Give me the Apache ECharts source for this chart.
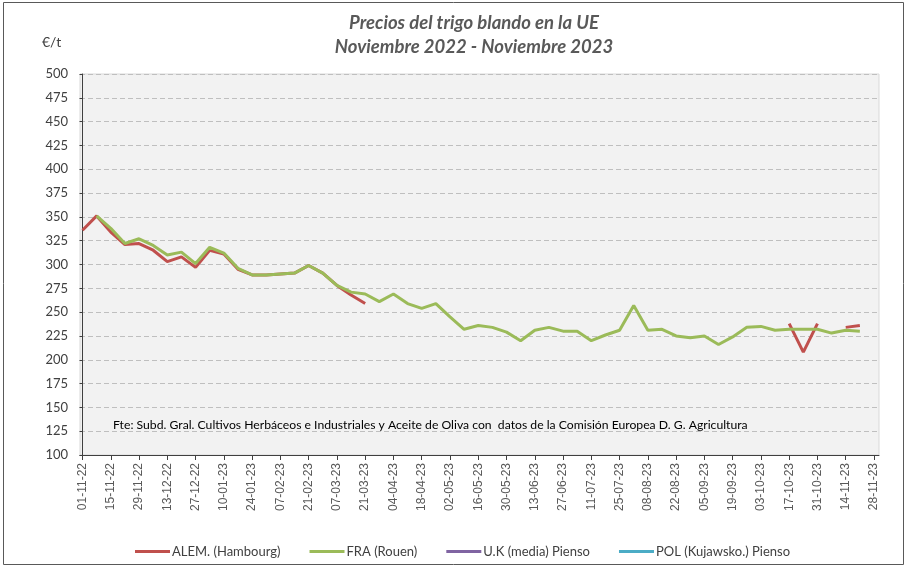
<!DOCTYPE html>
<html><head><meta charset="utf-8">
<script src="https://cdn.jsdelivr.net/npm/echarts@6/dist/echarts.min.js"></script>
<style>html,body{margin:0;padding:0;background:#fff}#c{width:915px;height:567px}</style>
</head><body><div id="c"></div><script>
// Weekly categories
const weeks = ['01-11-22','08-11-22','15-11-22','22-11-22','29-11-22','06-12-22','13-12-22','20-12-22','27-12-22',
'03-01-23','10-01-23','17-01-23','24-01-23','31-01-23','07-02-23','14-02-23','21-02-23','28-02-23',
'07-03-23','14-03-23','21-03-23','28-03-23','04-04-23','11-04-23','18-04-23','25-04-23',
'02-05-23','09-05-23','16-05-23','23-05-23','30-05-23','06-06-23','13-06-23','20-06-23','27-06-23',
'04-07-23','11-07-23','18-07-23','25-07-23','01-08-23','08-08-23','15-08-23','22-08-23','29-08-23',
'05-09-23','12-09-23','19-09-23','26-09-23','03-10-23','10-10-23','17-10-23','24-10-23','31-10-23',
'07-11-23','14-11-23','21-11-23','28-11-23'];
// Tick labels shown on the x axis (every other week)
const tickLabels = ['01-11-22','15-11-22','29-11-22','13-12-22','27-12-22','10-01-23','24-01-23','07-02-23',
'21-02-23','07-03-23','21-03-23','04-04-23','18-04-23','02-05-23','16-05-23','30-05-23','13-06-23','27-06-23',
'11-07-23','25-07-23','08-08-23','22-08-23','05-09-23','19-09-23','03-10-23','17-10-23','31-10-23','14-11-23','28-11-23'];
const seriesNames = ['ALEM. (Hambourg)','FRA (Rouen)','U.K (media) Pienso','POL (Kujawsko.) Pienso'];
const alem = [336,351,334,321,322,315,303,308,297,315,311,295,289,289,290,291,299,291,278,268,259,
null,null,null,null,null,null,null,null,null,null,null,null,null,null,null,null,null,null,null,null,null,null,null,null,null,null,null,null,null,
238,208,238,null,234,236,null];
const fra = [null,351,338,322,327,320,310,313,301,318,312,296,289,289,290,291,299,291,278,271,269,
261,269,259,254,259,245,232,236,234,229,220,231,234,230,230,220,226,231,257,231,232,225,223,225,216,224,
234,235,231,232,232,232,228,231,230,null];
const uk = [];
const pol = [];
const yMin = 100, yMax = 500, yStep = 25;

const tickIdx = tickLabels.map(l => weeks.indexOf(l));
const toPairs = arr => arr.map((v, i) => [i, v == null ? '-' : v]);
const colors = ['#c0504d', '#9bbb59', '#8064a2', '#4bacc6'];

const chart = echarts.init(document.getElementById('c'));
chart.setOption({
  animation: false,
  backgroundColor: '#ffffff',
  title: {
    text: 'Precios del trigo blando en la UE\nNoviembre 2022 - Noviembre 2023',
    left: 474, top: 11, textAlign: 'center', padding: 0,
    textStyle: { fontFamily: 'Lato', fontSize: 18.5, fontWeight: 'bold', fontStyle: 'italic', color: '#595959', lineHeight: 24 }
  },
  graphic: [
    { type: 'rect', shape: { x: 3.5, y: 2.5, width: 900, height: 562 }, style: { fill: 'none', stroke: '#595959', lineWidth: 1 }, silent: true },
    { type: 'text', left: 42, top: 35, style: { text: '€/t', font: '14px Lato', fill: '#404040' } },
    { type: 'text', left: 113, top: 419, z: 10, style: { text: 'Fte: Subd. Gral. Cultivos Herbáceos e Industriales y Aceite de Oliva con  datos de la Comisión Europea D. G. Agricultura', font: '12.2px Lato', fill: '#000000' } }
  ],
  legend: {
    data: seriesNames, left: 130, top: 540, icon: 'rect', itemWidth: 35, itemHeight: 3, itemGap: 29,
    textStyle: { fontFamily: 'Lato', fontSize: 13, color: '#404040', padding: [0, 0, 0, -3] }
  },
  grid: { left: 80, right: 36, top: 74, bottom: 112, show: true, backgroundColor: '#f2f2f2', borderColor: '#d9d9d9', borderWidth: 1 },
  xAxis: {
    type: 'value', min: -0.177, max: 56.354,
    axisLine: { show: true, onZero: false, lineStyle: { color: '#404040', width: 1 } },
    axisTick: { show: true, customValues: tickIdx, length: 5, lineStyle: { color: '#404040' } },
    axisLabel: { customValues: tickIdx, formatter: v => weeks[Math.round(v)], rotate: 90, margin: 8, fontFamily: 'Liberation Sans', fontSize: 12, color: '#595959' },
    splitLine: { show: false }
  },
  yAxis: {
    type: 'value', min: yMin, max: yMax, interval: yStep,
    axisLine: { show: true, lineStyle: { color: '#404040', width: 1 } },
    axisTick: { show: true, length: 3, lineStyle: { color: '#404040' } },
    axisLabel: { margin: 12, fontFamily: 'Lato', fontSize: 13, color: '#404040' },
    splitLine: { show: true, lineStyle: { color: '#bfbfbf', type: [5, 3], width: 1 } }
  },
  series: [
    { name: seriesNames[0], type: 'line', data: toPairs(alem), showSymbol: false, symbol: 'none', lineStyle: { width: 3, color: colors[0] }, itemStyle: { color: colors[0] }, z: 2 },
    { name: seriesNames[1], type: 'line', data: toPairs(fra), showSymbol: false, symbol: 'none', lineStyle: { width: 3, color: colors[1] }, itemStyle: { color: colors[1] }, z: 3 },
    { name: seriesNames[2], type: 'line', data: toPairs(uk), showSymbol: false, symbol: 'none', lineStyle: { width: 3, color: colors[2] }, itemStyle: { color: colors[2] } },
    { name: seriesNames[3], type: 'line', data: toPairs(pol), showSymbol: false, symbol: 'none', lineStyle: { width: 3, color: colors[3] }, itemStyle: { color: colors[3] } }
  ]
});
</script></body></html>
